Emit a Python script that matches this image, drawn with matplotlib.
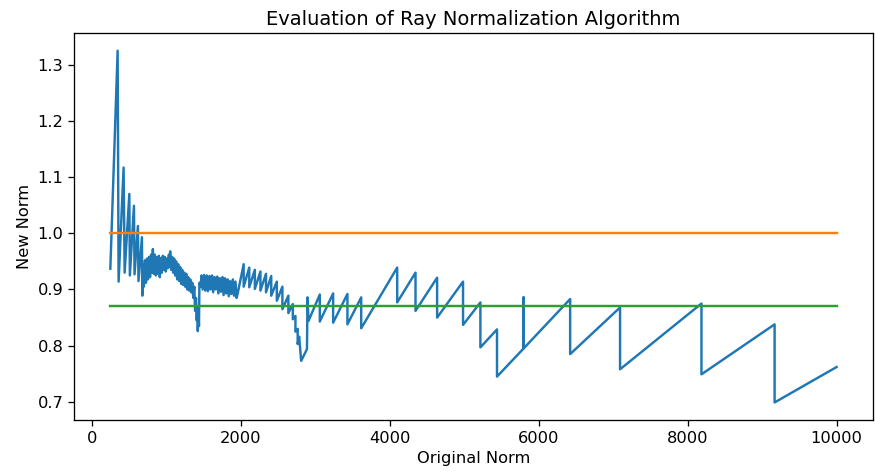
import matplotlib
matplotlib.use("Agg")
import matplotlib.pyplot as plt

# original norm (x) and new norm (y)
original_norm = [
    250, 348, 361, 428, 442, 505, 512, 567, 575, 620, 628, 674, 679,
    690, 700, 715, 728, 742, 755, 770, 783, 797, 808, 821, 833, 847, 860,
    874, 887, 901, 914, 928, 941, 955, 968, 982, 995, 1009, 1022, 1036,
    1046, 1053, 1066, 1080, 1093, 1107, 1120, 1134, 1147, 1161, 1174, 1188,
    1201, 1215, 1228, 1242, 1255, 1269, 1282, 1296, 1309, 1323, 1336, 1350,
    1363, 1377, 1388, 1400, 1410, 1418, 1424, 1432, 1440, 1446,
    1460, 1475, 1490, 1510, 1525, 1545, 1560, 1580, 1595, 1615, 1630, 1650,
    1665, 1685, 1700, 1720, 1735, 1755, 1770, 1790, 1805, 1825, 1840, 1860,
    1875, 1895, 1910, 1930, 1945, 1958,
    2040, 2040, 2115, 2115, 2190, 2190, 2265, 2265, 2340, 2340, 2410, 2410,
    2485, 2485, 2560, 2560, 2640, 2640, 2700, 2700, 2735, 2735, 2765, 2765,
    2785, 2812, 2890, 2897, 2910,
    3062, 3062, 3241, 3241, 3433, 3433, 3618, 3618, 4101, 4101, 4347, 4347,
    4637, 4637, 4985, 4985, 5218, 5218, 5441, 5441, 5798, 5798, 5798,
    6423, 6423, 7093, 7093, 8186, 8186, 9168, 9168, 10000,
]
new_norm = [
    0.937, 1.325, 0.914, 1.117, 0.930, 1.070, 0.925, 1.049, 0.927, 1.013, 0.915, 0.993, 0.889,
    0.945, 0.905, 0.952, 0.912, 0.955, 0.918, 0.958, 0.922, 0.962, 0.930, 0.972, 0.928, 0.962, 0.925,
    0.958, 0.928, 0.960, 0.922, 0.956, 0.930, 0.960, 0.935, 0.958, 0.932, 0.955, 0.938, 0.962,
    0.940, 0.968, 0.935, 0.958, 0.930, 0.955, 0.925, 0.950, 0.918, 0.945, 0.915, 0.940,
    0.910, 0.935, 0.908, 0.930, 0.905, 0.928, 0.900, 0.922, 0.898, 0.918, 0.895, 0.912,
    0.885, 0.905, 0.862, 0.885, 0.845, 0.870, 0.826, 0.860, 0.835, 0.912,
    0.905, 0.925, 0.900, 0.926, 0.898, 0.925, 0.897, 0.924, 0.900, 0.925, 0.895, 0.922,
    0.900, 0.923, 0.893, 0.920, 0.896, 0.922, 0.890, 0.920, 0.893, 0.918, 0.888, 0.915,
    0.892, 0.918, 0.889, 0.914, 0.885, 0.892,
    0.945, 0.905, 0.939, 0.904, 0.935, 0.901, 0.932, 0.898, 0.928, 0.895, 0.924, 0.889,
    0.914, 0.880, 0.905, 0.865, 0.889, 0.858, 0.874, 0.847, 0.853, 0.825, 0.830, 0.803,
    0.816, 0.773, 0.794, 0.886, 0.844,
    0.891, 0.843, 0.893, 0.841, 0.892, 0.838, 0.886, 0.831, 0.939, 0.877, 0.930, 0.862,
    0.921, 0.850, 0.914, 0.837, 0.877, 0.797, 0.829, 0.745, 0.795, 0.886, 0.795,
    0.883, 0.785, 0.868, 0.758, 0.875, 0.749, 0.838, 0.699, 0.762,
]

ref_x = [250, 10000]
target = [1.0, 1.0]
threshold = [0.87, 0.87]

plt.rcParams["font.size"] = 11.7

fig = plt.figure(figsize=(8.75, 4.73), dpi=100)
ax = fig.add_axes([0.0846, 0.112, 0.913, 0.818])
ax.plot(original_norm, new_norm, linewidth=1.75)
ax.plot(ref_x, target, linewidth=1.75)
ax.plot(ref_x, threshold, linewidth=1.75)
ax.set_title("Evaluation of Ray Normalization Algorithm")
ax.set_xlabel("Original Norm")
ax.set_ylabel("New Norm")
ax.set_yticks([0.7, 0.8, 0.9, 1.0, 1.1, 1.2, 1.3])
ax.tick_params(length=4.1, width=0.94)
for s in ax.spines.values():
    s.set_linewidth(0.94)
fig.savefig("out.png", dpi=100)
